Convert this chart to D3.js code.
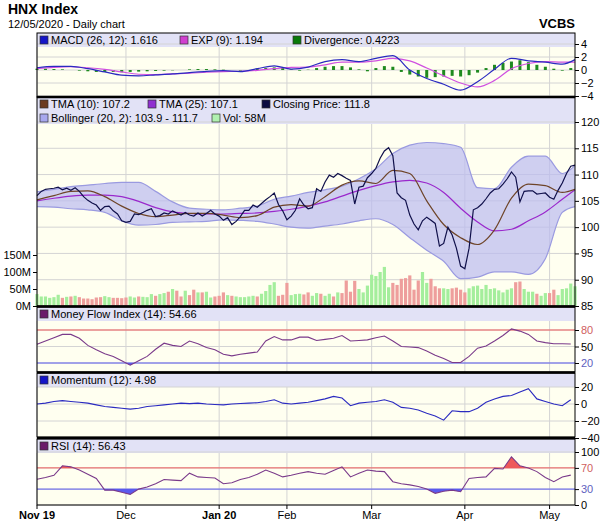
<!DOCTYPE html>
<html><head><meta charset="utf-8">
<script src="https://cdn.jsdelivr.net/npm/d3@7"></script>
<style>body{margin:0;background:#fff}text{font-family:"Liberation Sans",Arial,sans-serif}</style>
</head><body><svg id="c" width="605" height="525"></svg>
<script>
// month start positions (trading-day index)
var monthLabels = ['Nov 19','Dec','Jan 20','Feb','Mar','Apr','May']
var monthIdx = [0,21,43,59,79,101,121]

var close = [106,106.8,107.2,107.3,107.4,107.6,107.1,107.4,107,107.5,106.8,105.8,105.1,104.6,104.2,103.2,103.9,104,103.1,102.5,101.2,
  100.9,101.1,102.5,102.4,102.8,103.2,103.5,102,102.2,102.7,102.5,103.1,102.7,102.3,102.8,102.3,102.1,102.7,102.1,102.6,103.2,102.5,
  102.1,101.3,101.8,100.5,101.1,102,103.2,103.2,104.2,103.8,104.5,105.2,105.8,106.5,104.3,103.1,
  101.4,102.1,103.2,105.4,104.2,103.5,103.7,107.3,106.8,108.6,109.9,109.5,110.2,109.8,109.3,108.9,104.4,107.6,107.8,109.4,
  110.2,111.2,113.1,114.5,115.1,113.6,106.5,105.6,105.1,102.3,100.6,99.5,101.2,101.9,101.3,100.7,96.4,96.9,100,98.5,96,92.6,
  92.1,96,103.3,103.7,104.4,105.4,106.5,107.2,107.3,108.2,109.2,110.5,109.5,104.8,106.8,106.9,106.9,106.3,106.4,106.5,105.7,105.3,107,108.4,110.2,111.6,111.8]
var volume = [35,28,28,24,26,33,24,27,28,30,26,22,22,20,25,26,29,26,24,24,23,
  25,28,25,28,27,26,35,30,35,38,42,50,45,28,45,32,48,40,40,42,25,28,
  30,40,32,30,28,26,26,28,30,28,36,44,62,70,30,33,
  68,32,35,36,34,40,30,38,36,30,36,28,40,38,75,42,74,50,40,60,
  92,88,100,115,55,68,62,80,82,90,48,75,100,68,80,58,52,52,50,52,54,48,
  40,52,58,60,50,62,50,52,46,40,48,52,70,72,50,42,42,36,30,38,38,48,32,50,52,66,58]

// smooth series sampled every 4 trading days (last point = final day)
var smoothIdx = d3.range(0,128,4).concat([127])
var tma10 = [105.2,106,106.8,106.9,105.8,104,102.6,102,102.3,102.6,102.6,102.3,101.8,102.2,103.8,104.3,104,105.8,108,108.8,108.3,110.8,110.2,105,100.5,98,96.7,99.5,105.5,108.2,107.9,106.6,107.2]
var tma25 = [105,105.5,105.9,106.1,106.1,105.8,104.9,103.7,102.9,102.6,102.5,102.5,102.6,102.7,103,103.4,104,104.8,105.9,107,107.9,108.6,108.9,108.4,106.6,103.6,101,99.3,99.6,101.2,102.9,105.3,107.1]
var bollUpper = [106.7,107.2,107.7,108,108.3,108.5,108.5,106.8,104.8,103.6,103.4,103.3,103.6,104,105.3,105.9,106.6,107.1,107.8,109.2,111.1,114,115.6,116.1,115.9,115.2,107.5,107.3,111.4,113.5,113.5,110.2,111.7]
var bollLower = [103.9,103.8,103.5,103.3,102.8,101.2,100.4,100.5,100.9,101,101.1,101.4,101.3,101.1,100.6,100,99.8,100.2,100.6,101.2,101.6,100.5,98,95.6,93.5,90.2,90.5,91.5,91.5,91,94,102.8,103.9]
var macd = [0.35,0.55,0.55,0.2,-0.3,-0.8,-0.9,-0.75,-0.6,-0.4,-0.2,-0.1,-0.25,0.2,0.65,0.15,0.45,1.3,1.6,1.3,1.8,2.2,0,-1.3,-2.2,-3.1,-1.8,0.1,1.8,1.4,1.2,0.9,1.6]
var signal = [0.2,0.4,0.5,0.35,0.1,-0.3,-0.65,-0.7,-0.6,-0.5,-0.35,-0.25,-0.2,-0.05,0.2,0.4,0.45,0.8,1.2,1.2,1.4,1.8,1.4,0.3,-0.9,-2,-2.6,-1.6,0.2,1,1.3,1.2,1.2]

// oscillators sampled every 2 trading days
var oscIdx = d3.range(0,128,2)
var divergence = [0.2,0.2,0.15,0.1,0,-0.1,-0.2,-0.3,-0.3,-0.3,-0.35,
  -0.3,-0.25,-0.2,-0.15,-0.1,-0.05,0,0.1,0.15,0.15,0.1,
  0.05,0,-0.1,0,0.2,0.3,0.4,0.3,0.1,-0.1,
  0.05,0.3,0.5,0.6,0.6,0.4,0.1,-0.2,0.3,0.6,
  0.5,-0.3,-0.7,-1,-1.2,-1.1,-1,-0.9,-1,-0.8,
  -0.4,0.3,0.8,1.1,1.3,1.5,1.2,0.8,0.5,0.2,-0.1,0.3]
var mfi = [54,60,66,72,72,65,52,44,37,32,24,16,24,32,45,56,52,50,60,55,48,44,36,33,36,38,40,60,68,62,62,67,
  67,61,63,65,70,60,61,62,66,69,60,50,49,48,42,34,28,21,21,32,47,51,60,70,82,78,72,60,57,55,55,54.66]
var momentum = [0,1,3,4,3,2,1,-1,-3,-4,-5,-6,-5,-3,-2,-1,0,1,0.5,1,0,-0.5,-1,0,0.5,1,1.5,3,5,1,0,1,
  2,4,6,9,7,-2,1,2,3,5,2,-4,-5,-7,-11,-14,-19,-8,-9,-9,-5,2,6,9,10,14,18,6,3,0,-2,4.98]
var rsi = [48.5,52,56,74,72,66,58,50,28,28,24,20,30,34,40,48,47,46,60,53,52,51,40,42,48,52,58,66,60,53,56,60,
  63,60,58,65,72,53,60,66,64,63,44,40,38,35,30,22,26,28,25,50,52,53,69,68,91,74,70,63,52,44,53,56.43]

var svg = d3.select('#c')
var L = 37, R = 575
var x = d3.scaleLinear().domain([0,127]).range([L,R])
var grid = '#d4d4d4', band = '#e2e2f6', bg = '#fffff0'

svg.append('text').attr('x',8).attr('y',14).attr('font-size',14).attr('font-weight','bold').text('HNX Index')
svg.append('text').attr('x',8).attr('y',28).attr('font-size',11).text('12/05/2020 - Daily chart')
svg.append('text').attr('x',575).attr('y',28).attr('font-size',13).attr('font-weight','bold').attr('text-anchor','end').text('VCBS')

function panel(top, bottom, bandH, y, ticks, legend, tickCol){
  svg.append('rect').attr('x',L).attr('y',top).attr('width',R-L).attr('height',bottom-top).attr('fill',bg)
  svg.append('rect').attr('x',L).attr('y',top).attr('width',R-L).attr('height',bandH).attr('fill',band)
  var g = svg.append('g')
  g.selectAll('line.v').data(monthIdx).enter().append('line')
    .attr('x1',d => x(d)).attr('x2',d => x(d)).attr('y1',top+bandH).attr('y2',bottom).attr('stroke',grid)
  g.selectAll('line.h').data(ticks).enter().append('line')
    .attr('x1',L).attr('x2',R).attr('y1',d => y(d)).attr('y2',d => y(d)).attr('stroke',grid)
  var ax = svg.append('g').attr('transform','translate('+R+',0)')
    .call(d3.axisRight(y).tickValues(ticks).tickSize(4).tickPadding(2))
  ax.select('.domain').remove()
  ax.selectAll('text').attr('font-size',11).attr('fill',d => tickCol ? tickCol(d) : '#000')
  legend.forEach(function(row, r){
    row.forEach(function(it){
      svg.append('rect').attr('x',it.x).attr('y',top+3+r*14).attr('width',8).attr('height',8)
        .attr('fill',it.c).attr('stroke','#333').attr('stroke-width',0.7)
      svg.append('text').attr('x',it.x+11).attr('y',top+11+r*14).attr('font-size',11).text(it.t)
    })
  })
  return g
}

// MACD panel
var yM = d3.scaleLinear().domain([-4,4]).range([96,44])
panel(33,97,14,yM,[-4,-2,0,2,4],[[{x:40,c:'#1515c8',t:'MACD (26, 12): 1.616'},{x:180,c:'#d040d0',t:'EXP (9): 1.194'},{x:293,c:'#0a7a0a',t:'Divergence: 0.4223'}]])
svg.selectAll('rect.div').data(divergence).enter().append('rect')
  .attr('x',(d,i) => x(oscIdx[i])-1.5).attr('width',3)
  .attr('y',d => Math.min(yM(d),yM(0))).attr('height',d => Math.abs(yM(d)-yM(0)))
  .attr('fill','#1f8a1f')
var sm = d3.line().x((d,i) => x(smoothIdx[i])).y(d => d).curve(d3.curveMonotoneX)
function smLine(arr, y, col){
  svg.append('path').attr('d', sm(arr.map(y))).attr('fill','none').attr('stroke',col).attr('stroke-width',1.2)
}
smLine(signal, yM, '#d050e0')
smLine(macd, yM, '#2a2ac0')

// main price panel
var yP = d3.scaleLinear().domain([85,120]).range([306,122])
var yV = d3.scaleLinear().domain([0,150]).range([306,255])
panel(97,306,27,yP,[85,90,95,100,105,110,115,120],[
  [{x:40,c:'#6b3a1e',t:'TMA (10): 107.2'},{x:148,c:'#9030d0',t:'TMA (25): 107.1'},{x:262,c:'#0a0a40',t:'Closing Price: 111.8'}],
  [{x:40,c:'#a8a8ee',t:'Bollinger (20, 2): 103.9 - 111.7'},{x:212,c:'#b0f0b0',t:'Vol: 58M'}]])
var va = svg.append('g').attr('transform','translate('+L+',0)')
  .call(d3.axisLeft(yV).tickValues([0,50,100,150]).tickSize(4).tickPadding(2).tickFormat(d => d+'M'))
va.select('.domain').remove()
va.selectAll('text').attr('font-size',11).attr('fill','#000')
svg.selectAll('rect.vol').data(volume).enter().append('rect')
  .attr('x',(d,i) => x(i)-1.6).attr('width',3.2)
  .attr('y',d => yV(d)).attr('height',d => yV(0)-yV(d))
  .attr('fill',(d,i) => i == 0 || close[i] >= close[i-1] ? '#a4ee9c' : '#ee9e9c')
var bArea = d3.area().x((d,i) => x(smoothIdx[i])).y0((d,i) => yP(bollLower[i])).y1(d => yP(d)).curve(d3.curveMonotoneX)
svg.append('path').attr('d',bArea(bollUpper)).attr('fill','#babaf0').attr('fill-opacity',0.7)
smLine(bollUpper, yP, '#9a9ae0')
smLine(bollLower, yP, '#9a9ae0')
smLine(tma25, yP, '#9a28cc')
smLine(tma10, yP, '#6e4428')
svg.append('path').attr('d', d3.line().x((d,i) => x(i)).y(d => yP(d))(close))
  .attr('fill','none').attr('stroke','#10104a').attr('stroke-width',1.2)

// oscillator panels with threshold fills
function oscPanel(top, bottom, y, ticks, vals, legend, hi, lo, col){
  var tc = hi == null ? null : d => d == hi ? '#d06060' : d == lo ? '#6060c0' : '#000'
  panel(top,bottom,14,y,ticks,[[legend]],tc)
  var line = d3.line().x((d,i) => x(oscIdx[i])).y(d => y(d))
  if (hi != null) {
    [[hi,'#ee5a5a',top,y(hi)],[lo,'#5a5aee',y(lo),bottom]].forEach(function(h, k){
      var id = 'clip'+top+'_'+k
      svg.append('clipPath').attr('id',id).append('rect').attr('x',L).attr('y',h[2]).attr('width',R-L).attr('height',h[3]-h[2])
      svg.append('path').attr('clip-path','url(#'+id+')')
        .attr('d', d3.area().x((d,i) => x(oscIdx[i])).y0(y(h[0])).y1(d => y(d))(vals)).attr('fill',h[1])
      svg.append('line').attr('x1',L).attr('x2',R).attr('y1',y(h[0])).attr('y2',y(h[0])).attr('stroke',h[1]).attr('stroke-width',1)
    })
  }
  svg.append('path').attr('d',line(vals)).attr('fill','none').attr('stroke',col).attr('stroke-width',1.1)
}
var yF = d3.scaleLinear().domain([20,80]).range([363,330])
oscPanel(307,372,yF,[20,50,80],mfi,{x:40,c:'#6a1a6a',t:'Money Flow Index (14): 54.66'},80,20,'#7a3a8a')
var yMo = d3.scaleLinear().domain([-40,20]).range([438,387])
oscPanel(373,437,yMo,[-40,-20,0,20],momentum,{x:40,c:'#1515c8',t:'Momentum (12): 4.98'},null,null,'#2a2ac0')
var yR = d3.scaleLinear().domain([0,100]).range([505,452])
oscPanel(439,505,yR,[0,30,70,100],rsi,{x:40,c:'#6a1a6a',t:'RSI (14): 56.43'},70,30,'#7a3a8a')

// panel frames
;[[33,97],[97,306],[307,372],[373,437],[439,505]].forEach(function(p){
  svg.append('rect').attr('x',L).attr('y',p[0]).attr('width',R-L).attr('height',p[1]-p[0])
    .attr('fill','none').attr('stroke','#000').attr('stroke-width',1)
})
;[97,306.5,372.5,438].forEach(function(yy){
  svg.append('line').attr('x1',L).attr('x2',R).attr('y1',yy).attr('y2',yy).attr('stroke','#000').attr('stroke-width',2.5)
})

// x axis labels
svg.selectAll('text.m').data(monthLabels).enter().append('text')
  .attr('x',(d,i) => x(monthIdx[i])).attr('y',519).attr('font-size',11).attr('text-anchor','middle')
  .attr('font-weight',d => /\d/.test(d) ? 'bold' : 'normal').text(d => d)
svg.selectAll('line.mt').data(monthIdx).enter().append('line')
  .attr('x1',d => x(d)).attr('x2',d => x(d)).attr('y1',505).attr('y2',509).attr('stroke','#000')
</script></body></html>
